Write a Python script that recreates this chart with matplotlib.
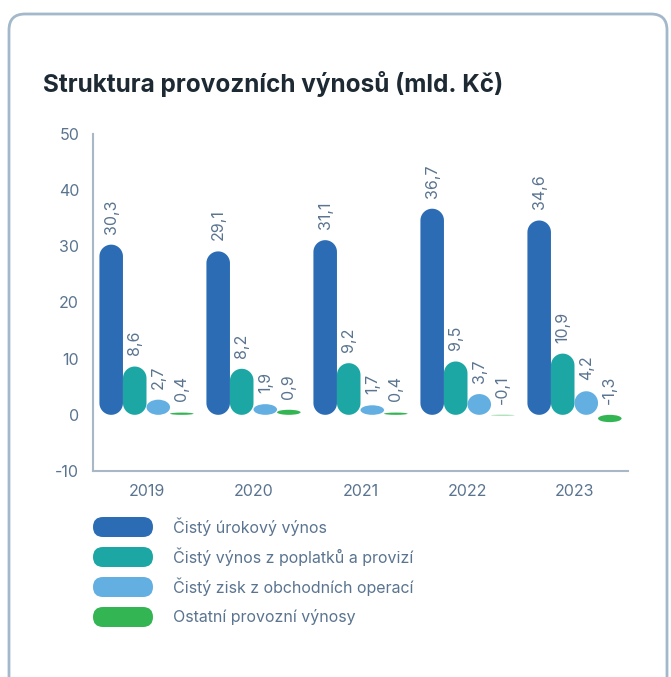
import matplotlib.pyplot as plt
import numpy as np
from matplotlib.patches import Polygon, FancyBboxPatch, Ellipse
from matplotlib.transforms import IdentityTransform

plt.rcParams['font.family'] = ['Inter', 'DejaVu Sans']
plt.rcParams['axes.unicode_minus'] = False

years = ['2019', '2020', '2021', '2022', '2023']
series = ['Čistý úrokový výnos', 'Čistý výnos z poplatků a provizí',
          'Čistý zisk z obchodních operací', 'Ostatní provozní výnosy']
urok = [30.3, 29.1, 31.1, 36.7, 34.6]
poplatky = [8.6, 8.2, 9.2, 9.5, 10.9]
obchod = [2.7, 1.9, 1.7, 3.7, 4.2]
ostatni = [0.4, 0.9, 0.4, -0.1, -1.3]
colors = ['#2b6cb4', '#1ca7a4', '#63afe2', '#34b553']
txt = '#5a7490'
axis_col = '#a9b8c6'

W, H = 671, 677
fig = plt.figure(figsize=(W / 100, H / 100), dpi=100)

# card outline
card = FancyBboxPatch((9, -30), 658, H - 14 + 30, boxstyle='round,pad=0,rounding_size=16',
                      transform=IdentityTransform(), fc='white', ec='#a3b8ca', lw=2, zorder=-5)
fig.patches.append(card)

fig.text(43 / W, 1 - 84 / H, 'Struktura provozních výnosů (mld. Kč)', fontsize=17.5,
         fontweight='bold', color='#1e2a33', va='center', ha='left')

ax = fig.add_axes([93 / W, 206 / H, 535 / W, 337 / H])
ax.set_zorder(2)
ax.set_xlim(-0.5, 4.5)
ax.set_ylim(-10, 50)
ax.patch.set_visible(False)
for s in ['top', 'right']:
    ax.spines[s].set_visible(False)
for s in ['left', 'bottom']:
    ax.spines[s].set_color(axis_col)
    ax.spines[s].set_linewidth(1.5)
ax.set_yticks(range(-10, 51, 10))
ax.set_xticks(range(len(years)))
ax.set_xticklabels(years)
ax.tick_params(length=0, labelsize=11.5, labelcolor=txt)
ax.tick_params(axis='x', pad=9)
ax.tick_params(axis='y', pad=10)

bw = 0.22
p0 = ax.transData.transform((0, 0))
p1 = ax.transData.transform((1, 1))
px_x = p1[0] - p0[0]
px_y = p1[1] - p0[1]
ry = (bw / 2) * px_x / px_y

def pill(xc, v, color):
    if abs(v) <= 2 * ry:
        ax.add_patch(Ellipse((xc, v / 2), bw, abs(v), fc=color, ec='none', zorder=3))
        return
    lo, hi = min(v, 0), max(v, 0)
    t = np.linspace(0, np.pi, 40)
    top = np.column_stack([xc + bw / 2 * np.cos(t), hi - ry + ry * np.sin(t)])
    bot = np.column_stack([xc - bw / 2 * np.cos(t), lo + ry - ry * np.sin(t)])
    ax.add_patch(Polygon(np.vstack([top, bot]), closed=True, fc=color, ec='none', zorder=3))

data = [urok, poplatky, obchod, ostatni]
for i, vals in enumerate(data):
    for j, v in enumerate(vals):
        xc = j + (i - 1.5) * bw
        pill(xc, v, colors[i])
        ax.annotate(f'{v:.1f}'.replace('.', ','), xy=(xc, max(v, 0)), xytext=(0, 8),
                    textcoords='offset points', rotation=90, ha='center', va='bottom',
                    fontsize=11.5, color=txt)

# legend
for k, name in enumerate(series):
    yc = 527 + 30 * k
    fig.patches.append(FancyBboxPatch((93, H - yc - 10), 60, 20,
                                      boxstyle='round,pad=0,rounding_size=10',
                                      transform=IdentityTransform(), fc=colors[k], ec='none'))
    fig.text(173 / W, 1 - yc / H, name, fontsize=11.5, color=txt, va='center', ha='left')

fig.savefig('out.png', dpi=100)
